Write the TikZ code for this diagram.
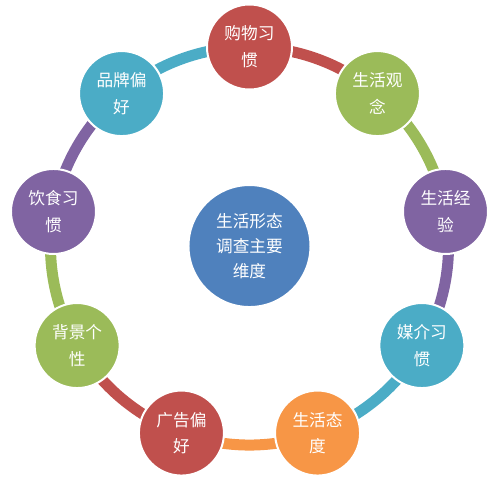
\documentclass[tikz,border=0pt]{standalone}
\usepackage{fontspec}
\newfontfamily\cjk{Noto Sans CJK SC}
\usetikzlibrary{backgrounds}
\definecolor{hubblue}{HTML}{4F81BD}
\definecolor{dimred}{HTML}{C0504D}
\definecolor{dimgreen}{HTML}{9BBB59}
\definecolor{dimpurple}{HTML}{8064A2}
\definecolor{dimaqua}{HTML}{4BACC6}
\definecolor{dimorange}{HTML}{F79646}

\begin{document}
\begin{tikzpicture}[font=\cjk,
      hubnode/.style={circle, draw=white, line width=1.5pt, fill=hubblue,
                      minimum size=91.5pt, inner sep=0pt, align=center,
                      text=white, font=\cjk\fontsize{12.5}{18.75}\selectfont},
      dimnode/.style={circle, draw=white, line width=1.5pt,
                      minimum size=63.75pt, inner sep=0pt, align=center,
                      text=white, font=\cjk\fontsize{12.5}{20}\selectfont},
      ringarc/.style={line width=8.25pt}
    ]
    \useasboundingbox (-187.1pt,-176.25pt) rectangle (185.6pt,184.5pt);

    \node[hubnode] (hub) at (0,0) {生活形态\\调查主要\\维度};

    % nine dimensions round the ring, clockwise from the top
    \foreach \i/\txt/\col in {1/{购物习\\惯}/dimred, 2/{生活观\\念}/dimgreen,
        3/{生活经\\验}/dimpurple, 4/{媒介习\\惯}/dimaqua, 5/{生活态\\度}/dimorange,
        6/{广告偏\\好}/dimred, 7/{背景个\\性}/dimgreen, 8/{饮食习\\惯}/dimpurple,
        9/{品牌偏\\好}/dimaqua}{
      \node[dimnode, fill=\col] (d\i) at ({130-40*\i}:149.25pt) {\txt};
    }

    \begin{scope}[on background layer]
      \foreach \i/\col in {1/dimred, 2/dimgreen, 3/dimpurple, 4/dimaqua,
          5/dimorange, 6/dimred, 7/dimgreen, 8/dimpurple, 9/dimaqua}{
        \draw[ringarc, draw=\col] (d\i.center)
          arc[start angle={130-40*\i}, end angle={90-40*\i}, radius=149.25pt];
      }
    \end{scope}
  \end{tikzpicture}
\end{document}
